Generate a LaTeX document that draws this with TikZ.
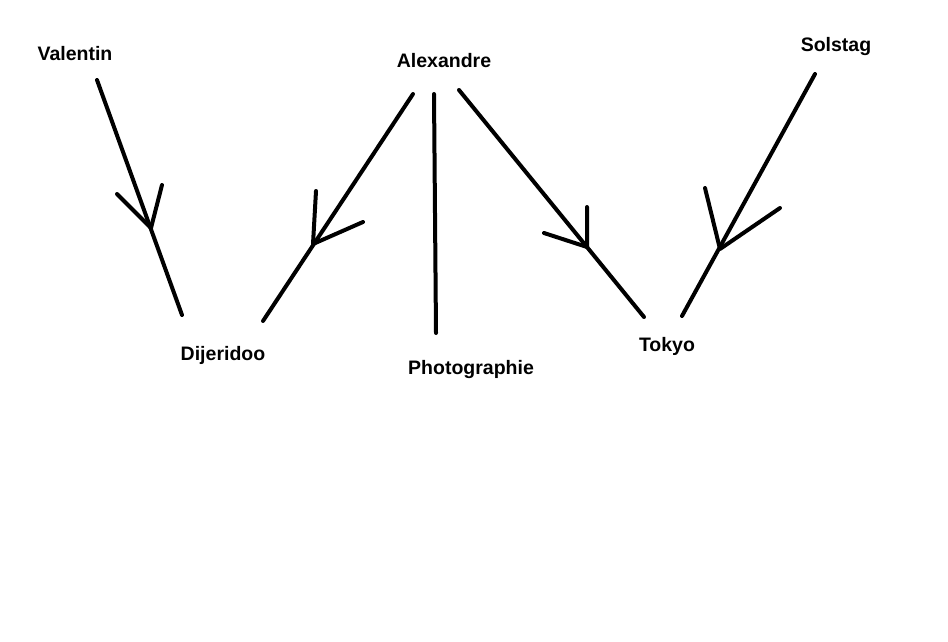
\documentclass[tikz,border=0pt]{standalone}
\usepackage{fontspec}
\setmainfont{Liberation Sans}
\begin{document}
\begin{tikzpicture}[x=1pt,y=-1pt,
  lbl/.style={inner sep=0pt,anchor=base,font=\fontsize{19.5}{22}\selectfont\bfseries},
  stroke/.style={line width=4pt,line cap=round,line join=round}]
\useasboundingbox (0,0) rectangle (948,642);
\fill[white] (0,0) rectangle (948,642);
% labels
\node[lbl] (valentin) at (75,61) {Valentin};
\node[lbl] (alexandre) at (444,67) {Alexandre};
\node[lbl] (solstag) at (836,52) {Solstag};
\node[lbl] (dijeridoo) at (223,360) {Dijeridoo};
\node[lbl] (photo) at (471,374) {Photographie};
\node[lbl] (tokyo) at (667,351) {Tokyo};
% line end points
\coordinate (v1) at (97,80);   \coordinate (v2) at (182,315);
\coordinate (a1) at (413,94);  \coordinate (a2) at (263,321);
\coordinate (b1) at (434,94);  \coordinate (b2) at (436,333);
\coordinate (c1) at (459,90);  \coordinate (c2) at (644,317);
\coordinate (s1) at (815,74);  \coordinate (s2) at (682,316);
% arrow tips and barbs
\coordinate (t1) at (151,228); \coordinate (t1a) at (117,194); \coordinate (t1b) at (162,185);
\coordinate (t2) at (313,244); \coordinate (t2a) at (316,191); \coordinate (t2b) at (363,222);
\coordinate (t3) at (587,247); \coordinate (t3a) at (587,207); \coordinate (t3b) at (544,233);
\coordinate (t4) at (720,249); \coordinate (t4a) at (705,188); \coordinate (t4b) at (780,208);
% connectors
\draw[stroke] (v1) -- (v2);
\draw[stroke] (a1) -- (a2);
\draw[stroke] (b1) -- (b2);
\draw[stroke] (c1) -- (c2);
\draw[stroke] (s1) -- (s2);
\draw[stroke] (t1a) -- (t1) -- (t1b);
\draw[stroke] (t2a) -- (t2) -- (t2b);
\draw[stroke] (t3a) -- (t3) -- (t3b);
\draw[stroke] (t4a) -- (t4) -- (t4b);
\end{tikzpicture}
\end{document}
